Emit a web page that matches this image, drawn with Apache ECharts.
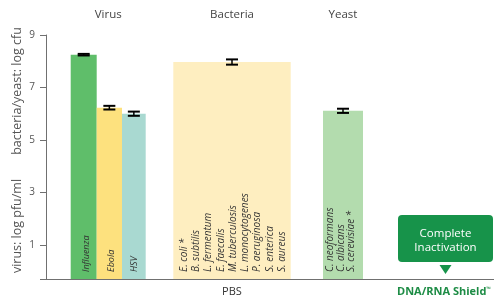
<!DOCTYPE html>
<html><head><meta charset="utf-8">
<script src="https://cdn.jsdelivr.net/npm/echarts@6/dist/echarts.min.js"></script>
<style>html,body{margin:0;padding:0;background:#fff}#c{width:494px;height:298px}</style>
</head><body><div id="c"></div>
<script>
// ---- data ----
const groups = ['Virus', 'Bacteria', 'Yeast'];
const barNames = ['Influenza', 'Ebola', 'HSV', 'Bacteria', 'Yeast'];
const barGroup = [0, 0, 0, 1, 2];
const barValues = [8.25, 6.23, 6.00, 7.97, 6.11];
const barErrors = [0.03, 0.07, 0.08, 0.10, 0.08];
const barLabels = [
  ['Influenza'], ['Ebola'], ['HSV'],
  ['E. coli *', 'B. subtilis', 'L. fermentum', 'E. faecalis', 'M. tuberculosis', 'L. monocytogenes', 'P. aeruginosa', 'S. enterica', 'S. aureus'],
  ['C. neoformans', 'C. albicans', 'S. cerevisiae *']
];
const yTicks = [1, 3, 5, 7, 9];
const conditions = ['PBS', 'DNA/RNA Shield'];
const shieldResult = ['Complete', 'Inactivation'];
const yTitles = ['bacteria/yeast: log cfu', 'virus: log pfu/ml'];

// ---- layout / style ----
const gridLeft = 46, gridTop = 35, gridBottom = 19;
const barSpans = [[24.7, 50.7], [50.7, 76], [76, 99.7], [127.3, 244.7], [277, 317]];
const barColors = ['#5fbe6a', '#fde17e', '#a9d9d1', '#feeec0', '#b3dcae'];
const labelOffset = [3, 2, 1, 1, -2];
const labelFont = [9, 9, 9, 10, 10];
const labelLineH = [11, 11, 11, 12.3, 10.6];
const yMin = -0.3, yMax = 9;
const green = '#17934a';
const FONT = '"Open Sans", sans-serif';

const chart = echarts.init(document.getElementById('c'), null, {renderer: 'canvas'});
const data = barValues.map((v, i) => [barSpans[i][0], barSpans[i][1], v, barErrors[i], i]);

function renderItem(params, api) {
  const i = api.value(4);
  const x0 = api.value(0), x1 = api.value(1), v = api.value(2), e = api.value(3);
  const pTop = api.coord([x0, v]);
  const pBot = api.coord([x1, yMin]);
  const cx = (x0 + x1) / 2;
  const pc = api.coord([cx, v]);
  const eTop = api.coord([cx, v + e])[1];
  const eBot = api.coord([cx, v - e])[1];
  const capW = 6;
  const children = [
    {type: 'rect', shape: {x: pTop[0], y: pTop[1], width: pBot[0] - pTop[0], height: pBot[1] - pTop[1]},
     style: {fill: barColors[i]}},
    {type: 'line', shape: {x1: pc[0] - capW, y1: eTop, x2: pc[0] + capW, y2: eTop}, style: {stroke: '#000', lineWidth: 2}},
    {type: 'line', shape: {x1: pc[0] - capW, y1: eBot, x2: pc[0] + capW, y2: eBot}, style: {stroke: '#000', lineWidth: 2}},
    {type: 'line', shape: {x1: pc[0], y1: eTop, x2: pc[0], y2: eBot}, style: {stroke: '#000', lineWidth: 1.5}},
    {type: 'text', x: pc[0] + labelOffset[i], y: pBot[1] - 7, rotation: Math.PI / 2,
     style: {text: barLabels[i].join('\n'), align: 'left', verticalAlign: 'middle',
             font: 'italic ' + labelFont[i] + 'px ' + FONT, lineHeight: labelLineH[i], fill: '#333'}}
  ];
  return {type: 'group', children: children};
}

function groupCenter(g) {
  const idx = barGroup.map((gg, i) => gg === g ? i : -1).filter(i => i >= 0);
  return (barSpans[idx[0]][0] + barSpans[idx[idx.length - 1]][1]) / 2;
}

const graphics = [];
groups.forEach((g, k) => {
  graphics.push({type: 'text', x: gridLeft + groupCenter(k), y: 15,
    style: {text: g, font: '11.5px ' + FONT, fill: '#444', align: 'center', verticalAlign: 'middle'}});
});
graphics.push({type: 'text', x: 17, y: 91, rotation: Math.PI / 2,
  style: {text: yTitles[0], font: '12.5px ' + FONT, fill: '#555', align: 'center', verticalAlign: 'middle'}});
graphics.push({type: 'text', x: 17, y: 226, rotation: Math.PI / 2,
  style: {text: yTitles[1], font: '12.5px ' + FONT, fill: '#555', align: 'center', verticalAlign: 'middle'}});
graphics.push({type: 'text', x: 232, y: 292,
  style: {text: conditions[0], font: '11px ' + FONT, fill: '#333', align: 'center', verticalAlign: 'middle'}});
graphics.push({type: 'text', x: 444, y: 292,
  style: {text: '{a|' + conditions[1] + '}{b|™}', align: 'center', verticalAlign: 'middle',
    rich: {a: {font: 'bold 11px ' + FONT, fill: '#1d8c45'}, b: {font: 'bold 6px ' + FONT, fill: '#1d8c45', verticalAlign: 'top', padding: [0, 0, 6, 0]}}}});
graphics.push({type: 'rect', shape: {x: 398, y: 215, width: 95, height: 47, r: 4}, style: {fill: green}});
graphics.push({type: 'text', x: 445.5, y: 241,
  style: {text: shieldResult.join('\n'), font: '11.5px ' + FONT, fill: '#fff', align: 'center', verticalAlign: 'middle', lineHeight: 14}});
graphics.push({type: 'polygon', shape: {points: [[439.5, 265], [451.5, 265], [445.5, 274]]}, style: {fill: green}});

chart.setOption({
  animation: false,
  backgroundColor: '#fff',
  grid: {left: gridLeft, right: 0, top: gridTop, bottom: gridBottom, containLabel: false, outerBoundsMode: 'none'},
  xAxis: {type: 'value', min: 0, max: 448, axisLine: {show: true, onZero: false, lineStyle: {color: '#707070', width: 1}},
    axisTick: {show: false}, axisLabel: {show: false}, splitLine: {show: false}},
  yAxis: {type: 'value', min: yMin, max: yMax,
    axisLine: {show: true, lineStyle: {color: '#707070', width: 1}},
    axisTick: {show: true, length: 6, lineStyle: {color: '#707070'}, customValues: [yMin].concat(yTicks)},
    axisLabel: {customValues: yTicks, color: '#555', fontSize: 10, fontFamily: FONT, margin: 11},
    splitLine: {show: false}},
  series: [{type: 'custom', renderItem: renderItem, data: data, encode: {x: [0, 1], y: 2}, clip: false}],
  graphic: graphics
});
</script></body></html>
